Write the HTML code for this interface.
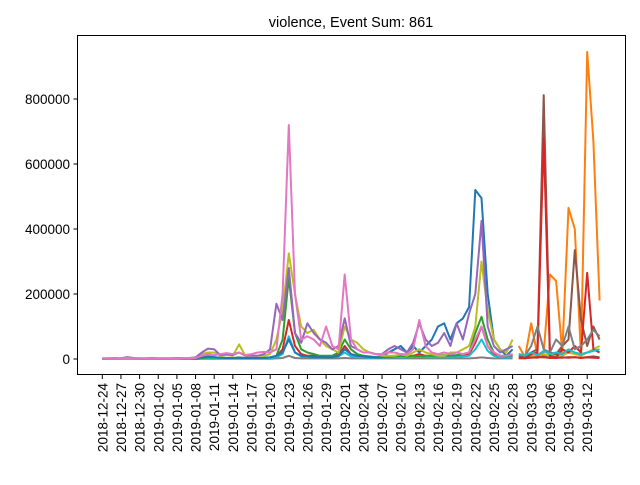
<!DOCTYPE html>
<html><head><meta charset="utf-8"><style>
body{margin:0;background:#fff;}
svg{font-family:"Liberation Sans","DejaVu Sans",sans-serif;}
</style></head><body>
<svg id="chart" width="640" height="480" viewBox="0 0 640 480" xmlns="http://www.w3.org/2000/svg">
<rect x="0" y="0" width="640" height="480" fill="#fff"/>
<text x="351" y="27" font-size="14.5" text-anchor="middle">violence, Event Sum: 861</text>
<g id="plot"></g>
<rect x="77.5" y="35.5" width="548" height="339" fill="none" stroke="#000" stroke-width="1"/>
<g id="yaxis"></g>
<g id="xaxis"></g>
</svg>
<script>
const tickLabels = ["2018-12-24","2018-12-27","2018-12-30","2019-01-02","2019-01-05","2019-01-08","2019-01-11","2019-01-14","2019-01-17","2019-01-20","2019-01-23","2019-01-26","2019-01-29","2019-02-01","2019-02-04","2019-02-07","2019-02-10","2019-02-13","2019-02-16","2019-02-19","2019-02-22","2019-02-25","2019-02-28","2019-03-03","2019-03-06","2019-03-09","2019-03-12"];
const yTicks = [0,200000,400000,600000,800000];
// group 1: daily from 2018-12-24 (day 0), values in thousands
const g1Start = 0;
const blue1 = [2,2,2,2,2,2,2,2,2,2,2,2,2,2,2,2,5,8,6,4,3,3,4,3,3,3,4,5,10,20,60,20,10,8,6,6,5,5,10,30,15,10,8,6,5,5,20,30,40,20,40,20,40,60,100,110,60,110,125,160,520,495,200,60,30,10,30];
const green1 = [1,1,1,1,1,1,1,1,1,1,1,1,1,1,1,1,3,5,5,4,3,3,5,3,3,3,3,5,10,60,250,80,30,20,15,10,10,10,20,60,30,15,10,8,6,6,6,8,10,8,10,8,10,10,10,12,10,12,15,20,80,130,60,20,10,8,15];
const purple1 = [2,2,3,2,6,3,2,2,3,2,2,2,3,3,3,5,20,32,30,12,15,12,20,10,10,10,15,30,170,120,280,80,50,110,80,60,50,30,40,125,40,30,20,20,15,15,30,40,30,20,50,110,60,40,50,80,40,110,60,140,200,425,100,40,20,30,40];
const pink1 = [2,2,2,2,3,2,2,2,2,2,2,2,2,3,3,3,10,15,12,15,18,15,20,12,15,20,22,20,30,200,720,200,60,70,60,40,100,40,30,260,60,30,20,20,15,15,20,20,15,15,30,120,40,20,15,20,15,20,15,20,60,100,40,20,10,10,15];
const olive1 = [1,1,1,1,1,1,1,1,1,1,1,1,1,2,2,3,15,20,20,10,12,10,45,10,10,10,10,15,60,150,325,200,100,80,90,60,40,30,20,100,60,50,30,20,15,10,10,10,15,10,20,30,20,15,10,10,20,20,30,40,100,300,150,60,30,20,60];
const gray1 = [0,0,0,0,0,0,0,0,0,0,0,0,0,0,0,0,1,1,1,1,1,1,1,1,1,1,1,1,2,3,10,3,2,2,2,2,2,2,2,3,2,2,2,2,2,2,2,2,2,2,2,2,2,2,2,2,2,2,2,2,3,5,3,2,2,2,2];
const red1 = [1,1,1,1,1,1,1,1,1,1,1,1,1,1,1,1,2,4,4,3,3,3,3,3,3,3,3,4,8,30,120,40,15,10,10,8,8,8,12,40,15,10,8,6,5,5,8,10,8,8,10,15,10,8,8,10,8,10,12,15,50,100,40,15,8,6,10];
const cyan1 = [0,0,0,0,0,0,0,0,0,0,0,0,0,0,0,0,2,3,3,2,2,2,2,2,2,2,2,3,5,15,70,20,8,6,5,5,5,5,8,20,8,6,5,4,4,4,5,6,5,5,6,10,6,5,5,6,5,6,8,10,30,60,25,10,6,4,6];
// group 2: daily from 2019-03-01 (day 67)
const g2Start = 67;
const orange2 = [40,5,110,10,20,260,240,20,465,400,10,945,670,180];
const red2 = [5,3,15,20,680,10,5,30,20,40,20,265,30,20];
const brown2 = [10,5,20,30,812,20,15,40,60,335,120,40,100,60];
const gray2 = [15,10,40,100,30,20,60,40,100,30,40,60,90,70];
const cyan2 = [15,10,20,12,25,15,20,15,30,20,15,20,25,30];
const olive2 = [8,5,10,8,15,10,12,10,20,15,10,20,30,40];
const brownLow2 = [3,2,5,4,8,3,5,4,6,5,4,6,8,5];
const redLow2 = [2,3,4,6,5,4,3,5,4,6,3,5,4,3];

const X0 = 102.3, DX = 18.65/3, Y0 = 359, YS = 65/200000;
function xOf(d){ return X0 + d*DX; }
function yOf(v){ return Y0 - v*YS; }
const NS = "http://www.w3.org/2000/svg";
const plot = document.getElementById('plot');
function line(arr, start, color, name){
  const p = document.createElementNS(NS,'polyline');
  p.setAttribute('points', arr.map((v,i)=>xOf(start+i).toFixed(1)+','+yOf(v*1000).toFixed(1)).join(' '));
  p.setAttribute('fill','none'); p.setAttribute('stroke',color); p.setAttribute('stroke-width','2');
  p.setAttribute('stroke-linejoin','round');
  
  
  plot.appendChild(p);
}
line(gray1,g1Start,'#7f7f7f','series-gray-1');
line(red1,g1Start,'#d62728','series-red-1');
line(cyan1,g1Start,'#17becf','series-cyan-1');
line(green1,g1Start,'#2ca02c','series-green-1');
line(blue1,g1Start,'#1f77b4','series-blue-1');
line(olive1,g1Start,'#bcbd22','series-olive-1');
line(purple1,g1Start,'#9467bd','series-purple-1');
line(pink1,g1Start,'#e377c2','series-pink-1');
line(olive2,g2Start,'#bcbd22','series-olive-2');
line(orange2,g2Start,'#ff7f0e','series-orange-2');
line(brown2,g2Start,'#8c564b','series-brown-2');
line(red2,g2Start,'#d62728','series-red-2');
line(gray2,g2Start,'#7f7f7f','series-gray-2');
line(cyan2,g2Start,'#17becf','series-cyan-2');
line(brownLow2,g2Start,'#8c564b','series-brown-low-2');
line(redLow2,g2Start,'#d62728','series-red-low-2');

const ya = document.getElementById('yaxis');
yTicks.forEach(v=>{
  const y = yOf(v);
  const t = document.createElementNS(NS,'line');
  t.setAttribute('x1',73.5); t.setAttribute('x2',77.5); t.setAttribute('y1',y); t.setAttribute('y2',y);
  t.setAttribute('stroke','#000');
  
  
  ya.appendChild(t);
  const l = document.createElementNS(NS,'text');
  l.setAttribute('x',70); l.setAttribute('y',y+5); l.setAttribute('font-size','13.5'); l.setAttribute('text-anchor','end');
  l.textContent = v;
  
  
  ya.appendChild(l);
});
const xa = document.getElementById('xaxis');
tickLabels.forEach((s,i)=>{
  const x = xOf(i*3);
  const t = document.createElementNS(NS,'line');
  t.setAttribute('x1',x); t.setAttribute('x2',x); t.setAttribute('y1',375); t.setAttribute('y2',379);
  t.setAttribute('stroke','#000');
  
  
  xa.appendChild(t);
  const l = document.createElementNS(NS,'text');
  l.setAttribute('transform','translate('+(x+5)+',383) rotate(-90)');
  l.setAttribute('font-size','13.5'); l.setAttribute('text-anchor','end');
  l.textContent = s;
  
  
  xa.appendChild(l);
});
</script>
</body></html>
